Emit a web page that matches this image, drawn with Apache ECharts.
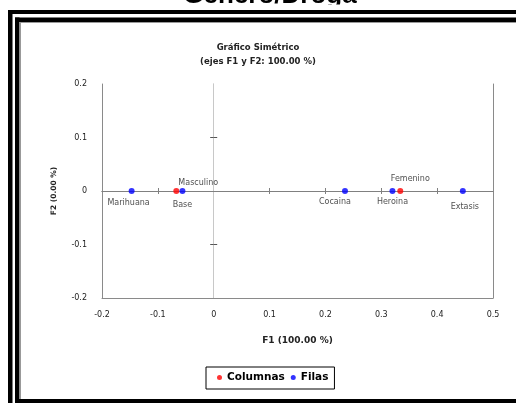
<!DOCTYPE html>
<html><head><meta charset="utf-8">
<script src="https://cdn.jsdelivr.net/npm/echarts@6/dist/echarts.min.js"></script>
<style>html,body{margin:0;padding:0;background:#fff}#c{width:516px;height:403px}</style>
</head><body><div id="c"></div>
<script>
// ---- data ----
const rowNames = ['Marihuana', 'Base', 'Cocaina', 'Heroina', 'Extasis'];
const rowF1 = [-0.147, -0.056, 0.235, 0.320, 0.446];
const rowF2 = [0, 0, 0, 0, 0];
const colNames = ['Masculino', 'Femenino'];
const colF1 = [-0.067, 0.334];
const colF2 = [0, 0];
const xTickValues = [-0.2, -0.1, 0, 0.1, 0.2, 0.3, 0.4, 0.5];
const xTickLabels = ['-0.2', '-0.1', '0', '0.1', '0.2', '0.3', '0.4', '0.5'];
const yTickValues = [-0.2, -0.1, 0, 0.1, 0.2];
const yTickLabels = ['-0.2', '-0.1', '0', '0.1', '0.2'];
const xZeroTicks = [-0.1, 0.1, 0.2, 0.3, 0.4];
const yZeroTicks = [-0.1, 0.1];

// ---- styles ----
const labelOffset = {
  Marihuana: [-3, 12], Base: [0, 14], Cocaina: [-10, 11], Heroina: [0, 11],
  Extasis: [2, 16], Masculino: [22, -8], Femenino: [10, -12]
};
const FONT = 'DejaVu Sans';
function lookup(vals, labels) {
  return function (v) {
    const i = vals.findIndex(t => Math.abs(t - v) < 1e-9);
    return i >= 0 ? labels[i] : '';
  };
}
function points(names, xs, ys) {
  return names.map((n, i) => ({ name: n, value: [xs[i], ys[i]], label: { offset: labelOffset[n] } }));
}
const xMin = xTickValues[0], xMax = xTickValues[xTickValues.length - 1];
const yMin = yTickValues[0], yMax = yTickValues[yTickValues.length - 1];
const baseX = { type: 'value', min: xMin, max: xMax, interval: 0.1, splitLine: { show: false } };
const baseY = { type: 'value', min: yMin, max: yMax, interval: 0.1, splitLine: { show: false } };

const chart = echarts.init(document.getElementById('c'), null, { renderer: 'canvas' });
chart.setOption({
  animation: false,
  backgroundColor: '#fff',
  title: {
    text: 'Gráfico Simétrico\n(ejes F1 y F2: 100.00 %)',
    left: 'center', top: 36,
    textStyle: { fontFamily: FONT, fontWeight: 'bold', fontSize: 8.5, lineHeight: 14, color: '#222' }
  },
  legend: {
    left: 206, top: 367,
    padding: [5, 6, 6, 11],
    itemGap: 6, itemWidth: 5, itemHeight: 5,
    icon: 'circle',
    borderColor: '#000', borderWidth: 1,
    textStyle: { fontFamily: FONT, fontWeight: 'bold', fontSize: 10.5, color: '#000' },
    data: ['Columnas', 'Filas']
  },
  grid: { left: 102, right: 23, top: 84, bottom: 105, containLabel: false },
  xAxis: [
    Object.assign({}, baseX, {
      position: 'bottom',
      axisLine: { show: true, onZero: false, lineStyle: { color: '#8a8a8a', width: 1 } },
      axisTick: { show: false },
      axisLabel: { show: true, margin: 13, fontFamily: FONT, fontSize: 8, color: '#222', formatter: lookup(xTickValues, xTickLabels) },
      name: 'F1 (100.00 %)', nameLocation: 'middle', nameGap: 38,
      nameTextStyle: { fontFamily: FONT, fontWeight: 'bold', fontSize: 9, color: '#222' }
    }),
    Object.assign({}, baseX, {
      position: 'bottom',
      axisLine: { show: true, onZero: true, onZeroAxisIndex: 0, lineStyle: { color: '#808080', width: 1 } },
      axisTick: { show: true, inside: false, length: 3, customValues: xZeroTicks, lineStyle: { color: '#808080' } },
      axisLabel: { show: false }
    }),
    Object.assign({}, baseX, {
      position: 'bottom',
      axisLine: { show: true, onZero: true, onZeroAxisIndex: 0, lineStyle: { color: '#808080', width: 1 } },
      axisTick: { show: true, inside: true, length: 3, customValues: xZeroTicks, lineStyle: { color: '#808080' } },
      axisLabel: { show: false }
    })
  ],
  yAxis: [
    Object.assign({}, baseY, {
      position: 'left',
      axisLine: { show: true, onZero: false, lineStyle: { color: '#8a8a8a', width: 1 } },
      axisTick: { show: false },
      axisLabel: { show: true, margin: 15, fontFamily: FONT, fontSize: 8, color: '#222', formatter: lookup(yTickValues, yTickLabels) },
      name: 'F2 (0.00 %)', nameLocation: 'middle', nameGap: 44,
      nameTextStyle: { fontFamily: FONT, fontWeight: 'bold', fontSize: 7.5, color: '#222' }
    }),
    Object.assign({}, baseY, {
      position: 'right',
      axisLine: { show: true, onZero: false, lineStyle: { color: '#8a8a8a', width: 1 } },
      axisTick: { show: false },
      axisLabel: { show: false }
    }),
    Object.assign({}, baseY, {
      position: 'left',
      axisLine: { show: true, onZero: true, onZeroAxisIndex: 0, lineStyle: { color: '#c8c8c8', width: 1 } },
      axisTick: { show: true, inside: false, length: 3.5, customValues: yZeroTicks, lineStyle: { color: '#555' } },
      axisLabel: { show: false }
    }),
    Object.assign({}, baseY, {
      position: 'left',
      axisLine: { show: true, onZero: true, onZeroAxisIndex: 0, lineStyle: { color: '#c8c8c8', width: 1 } },
      axisTick: { show: true, inside: true, length: 3.5, customValues: yZeroTicks, lineStyle: { color: '#555' } },
      axisLabel: { show: false }
    })
  ],
  series: [
    {
      name: 'Columnas', type: 'scatter', xAxisIndex: 0, yAxisIndex: 0,
      symbol: 'circle', symbolSize: 6, z: 5,
      itemStyle: { color: '#ff0000' },
      label: { show: true, position: 'inside', formatter: '{b}', fontFamily: FONT, fontSize: 8, color: '#222' },
      data: points(colNames, colF1, colF2)
    },
    {
      name: 'Filas', type: 'scatter', xAxisIndex: 0, yAxisIndex: 0,
      symbol: 'circle', symbolSize: 6, z: 5,
      itemStyle: { color: '#0000ff' },
      label: { show: true, position: 'inside', formatter: '{b}', fontFamily: FONT, fontSize: 8, color: '#222' },
      data: points(rowNames, rowF1, rowF2)
    }
  ],
  graphic: [
    { type: 'text', z: 10, style: { text: 'Género/Droga', x: 270, y: -4.5, textAlign: 'center', textVerticalAlign: 'middle', font: 'bold 26px "Liberation Sans"', fill: '#000' } },
    { type: 'rect', z: 11, shape: { x: 0, y: 4.5, width: 516, height: 6 }, style: { fill: '#fff' } },
    { type: 'rect', z: 12, shape: { x: 8, y: 10, width: 520, height: 4 }, style: { fill: '#000' } },
    { type: 'rect', z: 12, shape: { x: 8, y: 10, width: 4.5, height: 400 }, style: { fill: '#000' } },
    { type: 'rect', z: 12, shape: { x: 15, y: 17.5, width: 510, height: 4.5 }, style: { fill: '#000' } },
    { type: 'rect', z: 12, shape: { x: 15, y: 17.5, width: 4.5, height: 390 }, style: { fill: '#000' } },
    { type: 'rect', z: 12, shape: { x: 15, y: 399, width: 510, height: 5 }, style: { fill: '#000' } },
    { type: 'rect', z: 12, shape: { x: 19.5, y: 22, width: 1.5, height: 377 }, style: { fill: '#999' } },
    { type: 'rect', z: 12, shape: { x: 19.5, y: 22, width: 500, height: 1 }, style: { fill: '#999' } }
  ]
});
</script>
</body></html>
